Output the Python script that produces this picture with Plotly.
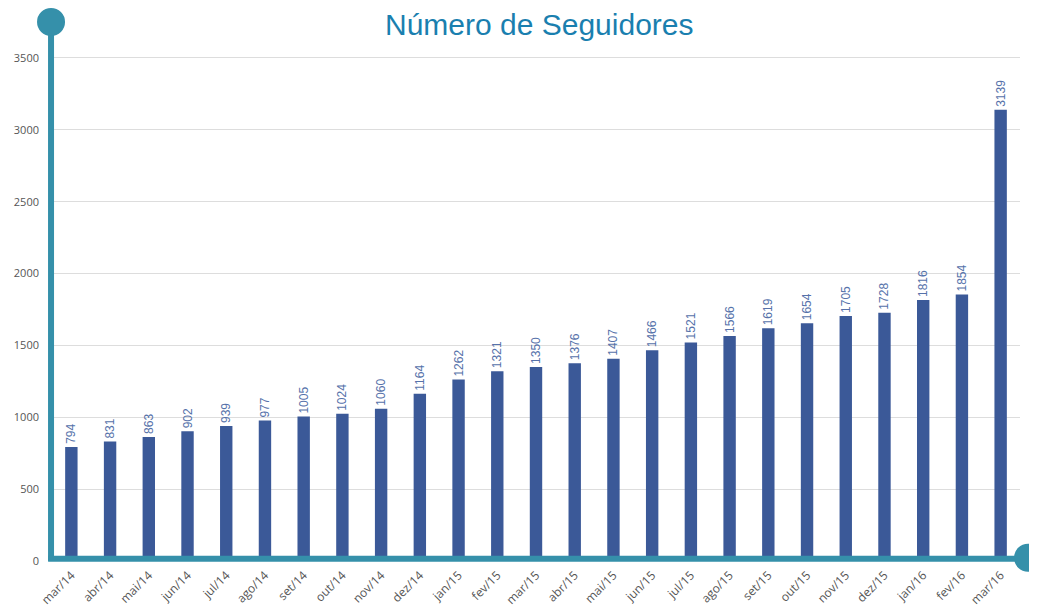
import plotly.graph_objects as go

meses = ['mar/14', 'abr/14', 'mai/14', 'jun/14', 'jul/14', 'ago/14', 'set/14', 'out/14',
         'nov/14', 'dez/14', 'jan/15', 'fev/15', 'mar/15', 'abr/15', 'mai/15', 'jun/15',
         'jul/15', 'ago/15', 'set/15', 'out/15', 'nov/15', 'dez/15', 'jan/16', 'fev/16', 'mar/16']
seguidores = [794, 831, 863, 902, 939, 977, 1005, 1024, 1060, 1164, 1262, 1321, 1350,
              1376, 1407, 1466, 1521, 1566, 1619, 1654, 1705, 1728, 1816, 1854, 3139]
y_ticks = [0, 500, 1000, 1500, 2000, 2500, 3000, 3500]

teal = '#3590AA'
bar_color = '#3B5998'

fig = go.Figure()
fig.add_trace(go.Bar(x=meses, y=seguidores,
                     marker=dict(color=bar_color, line=dict(width=0)),
                     text=[str(v) + '\u00a0\u00a0' for v in seguidores],
                     textposition='outside',
                     textangle=-90,
                     constraintext='none',
                     cliponaxis=False,
                     textfont=dict(color='#5672AA', size=12, family='Liberation Sans'),
                     hoverinfo='x+y'))

# thick axis lines with round end caps
fig.add_shape(type='line', xref='paper', yref='paper', x0=-0.001, x1=-0.001, y0=0.0, y1=1.0,
              line=dict(color=teal, width=6), layer='above')
fig.add_shape(type='line', xref='paper', yref='paper', x0=-0.004, x1=1.008, y0=0.004, y1=0.004,
              line=dict(color=teal, width=6), layer='above')
fig.add_shape(type='circle', xref='paper', yref='paper', xsizemode='pixel', ysizemode='pixel',
              xanchor=-0.001, yanchor=1.0, x0=-14, x1=14, y0=-14, y1=14,
              fillcolor=teal, line=dict(width=0), layer='above')
fig.add_shape(type='circle', xref='paper', yref='paper', xsizemode='pixel', ysizemode='pixel',
              xanchor=1.0083, yanchor=0.006, x0=-14, x1=14, y0=-14, y1=14,
              fillcolor=teal, line=dict(width=0), layer='above')

fig.add_annotation(text='Número de Seguidores', xref='paper', yref='paper',
                   x=0.504, y=0.996, xanchor='center', yanchor='middle', showarrow=False,
                   font=dict(size=30, color='#1A7FAF', family='Liberation Sans'))

# page body adds an 8px margin, so the figure is 8px smaller on each axis
fig.update_layout(
    width=1029, height=603,
    margin=dict(l=44, r=17, t=14, b=50),
    plot_bgcolor='white', paper_bgcolor='white',
    bargap=0.68,
    showlegend=False,
    font=dict(family='Open Sans', color='#555555', size=11),
    xaxis=dict(tickangle=-45, showgrid=False, showline=False, ticks='', automargin=False,
               ticklabelstandoff=4, tickfont=dict(size=12, color='#555555')),
    yaxis=dict(range=[0, 3750], tickvals=y_ticks, tickformat='d', showgrid=True,
               gridcolor='#DDDDDD', gridwidth=1, zeroline=False, showline=False, ticks='',
               automargin=False, ticklabelstandoff=12,
               tickfont=dict(size=11, color='#555555')),
)

fig.write_html('out.html')
